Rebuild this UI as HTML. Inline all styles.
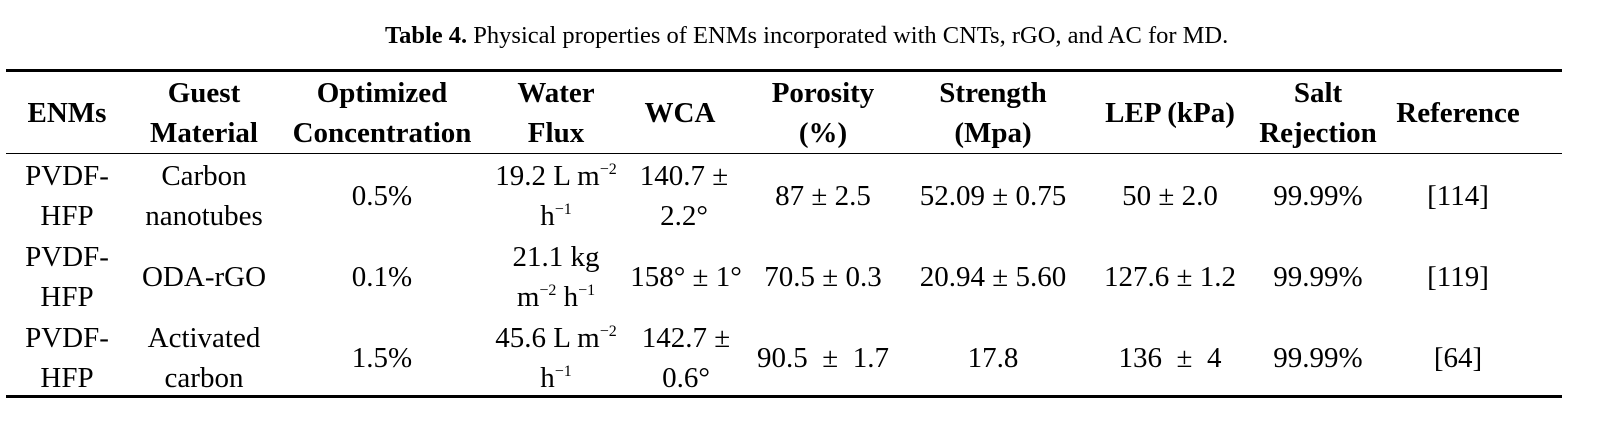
<!DOCTYPE html>
<html><head><style>
body{margin:0;width:1604px;height:427px;background:#fff;font-family:"Liberation Serif",serif;color:#000;position:relative;overflow:hidden}
.t{position:absolute;left:385px;top:22px;font-size:24.5px;white-space:nowrap}
.l{position:absolute;left:6px;width:1556px;background:#000}
.c{position:absolute;transform:translateX(-50%);text-align:center;white-space:nowrap;font-size:29px;line-height:40px}
.h{font-weight:bold}
.s{font-size:16px;position:relative;top:-11px;line-height:0;vertical-align:baseline}
</style></head><body>
<div class="t"><b>Table 4.</b> Physical properties of ENMs incorporated with CNTs, rGO, and AC for MD.</div>
<div class="l" style="top:69px;height:3px"></div>
<div class="l" style="top:153px;height:1px"></div>
<div class="l" style="top:395px;height:3px"></div>

<div class="c h" style="left:67px;top:93px">ENMs</div>
<div class="c h" style="left:204px;top:73px">Guest<br>Material</div>
<div class="c h" style="left:382px;top:73px">Optimized<br>Concentration</div>
<div class="c h" style="left:556px;top:73px">Water<br>Flux</div>
<div class="c h" style="left:680px;top:93px">WCA</div>
<div class="c h" style="left:823px;top:73px">Porosity<br>(%)</div>
<div class="c h" style="left:993px;top:73px">Strength<br>(Mpa)</div>
<div class="c h" style="left:1170px;top:93px">LEP (kPa)</div>
<div class="c h" style="left:1318px;top:73px">Salt<br>Rejection</div>
<div class="c h" style="left:1458px;top:93px">Reference</div>

<div class="c" style="left:67px;top:156px">PVDF-<br>HFP</div>
<div class="c" style="left:204px;top:156px">Carbon<br>nanotubes</div>
<div class="c" style="left:382px;top:176px">0.5%</div>
<div class="c" style="left:556px;top:156px">19.2 L m<span class="s">−2</span><br>h<span class="s">−1</span></div>
<div class="c" style="left:684px;top:156px">140.7 ±<br>2.2°</div>
<div class="c" style="left:823px;top:176px">87 ± 2.5</div>
<div class="c" style="left:993px;top:176px">52.09 ± 0.75</div>
<div class="c" style="left:1170px;top:176px">50 ± 2.0</div>
<div class="c" style="left:1318px;top:176px">99.99%</div>
<div class="c" style="left:1458px;top:176px">[114]</div>

<div class="c" style="left:67px;top:237px">PVDF-<br>HFP</div>
<div class="c" style="left:204px;top:257px">ODA-rGO</div>
<div class="c" style="left:382px;top:257px">0.1%</div>
<div class="c" style="left:556px;top:237px">21.1 kg<br>m<span class="s">−2</span> h<span class="s">−1</span></div>
<div class="c" style="left:686px;top:257px">158° ± 1°</div>
<div class="c" style="left:823px;top:257px">70.5 ± 0.3</div>
<div class="c" style="left:993px;top:257px">20.94 ± 5.60</div>
<div class="c" style="left:1170px;top:257px">127.6 ± 1.2</div>
<div class="c" style="left:1318px;top:257px">99.99%</div>
<div class="c" style="left:1458px;top:257px">[119]</div>

<div class="c" style="left:67px;top:318px">PVDF-<br>HFP</div>
<div class="c" style="left:204px;top:318px">Activated<br>carbon</div>
<div class="c" style="left:382px;top:338px">1.5%</div>
<div class="c" style="left:556px;top:318px">45.6 L m<span class="s">−2</span><br>h<span class="s">−1</span></div>
<div class="c" style="left:686px;top:318px">142.7 ±<br>0.6°</div>
<div class="c" style="left:823px;top:338px">90.5 &nbsp;± &nbsp;1.7</div>
<div class="c" style="left:993px;top:338px">17.8</div>
<div class="c" style="left:1170px;top:338px">136 &nbsp;± &nbsp;4</div>
<div class="c" style="left:1318px;top:338px">99.99%</div>
<div class="c" style="left:1458px;top:338px">[64]</div>
</body></html>
